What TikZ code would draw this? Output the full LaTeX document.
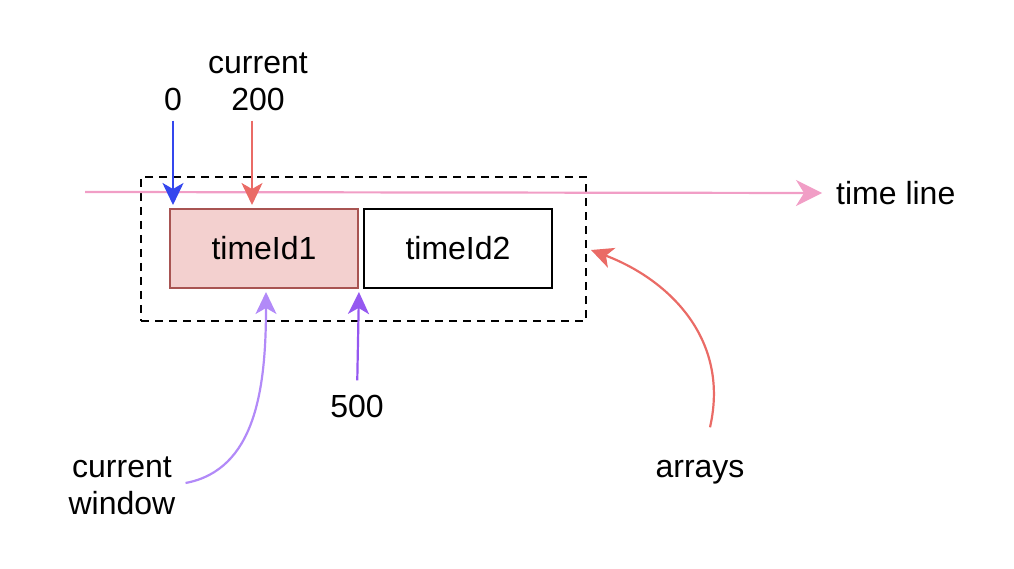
\documentclass[tikz,border=0pt]{standalone}
\usepackage{fontspec}
\setmainfont{Liberation Sans}
\usetikzlibrary{arrows.meta,calc}
\definecolor{tlpink}{HTML}{F19EC6}
\definecolor{zblue}{HTML}{3447EE}
\definecolor{cred}{HTML}{EA6B66}
\definecolor{dpurp}{HTML}{9558F0}
\definecolor{lpurp}{HTML}{B28AF8}
\definecolor{boxfill}{HTML}{F3D0CF}
\definecolor{boxline}{HTML}{A85452}
\tikzset{
  lbl/.style={font=\fontsize{32}{37}\selectfont, inner sep=0pt, text height=23pt, text depth=0pt, align=center},
  cellbox/.style={draw, line width=2pt, minimum width=188pt, minimum height=79pt, inner sep=0pt, font=\fontsize{32}{37}\selectfont},
  arr/.style={line width=2.2pt, -{Stealth[length=22pt,width=21pt,inset=6pt]}},
}
\begin{document}
\begin{tikzpicture}[x=1pt,y=-1pt]
\useasboundingbox (0,0) rectangle (1014,569);
% group
\node[draw, dashed, dash pattern=on 8pt off 6pt, line width=2pt, minimum width=445pt, minimum height=144pt, inner sep=0pt] (grp) at (363.5,249) {};
% cells
\node[cellbox, fill=boxfill, draw=boxline] (t1) at (264,248.5) {timeId1};
\node[cellbox, draw=black] (t2) at (458,248.5) {timeId2};
% time line
\coordinate (tls) at (85,192);
\node[lbl, anchor=west] (tl) at (836,193) {time line};
\draw[tlpink, line width=2.2pt, -{Stealth[length=26pt,width=26pt,inset=8pt]}] (tls) -- ([xshift=-14pt]tl.west);
% labels
\node[lbl] (zero) at (173,99) {0};
\node[lbl] (cur) at (258,62) {current};
\node[lbl] (two) at (258,99) {200};
\node[lbl] (five) at (357,406) {500};
\node[lbl] (cw) at (122,503) {current\\window};
\node[lbl] (arrs) at (700,466) {arrays};
% arrows
\draw[arr, zblue, shorten <=10pt, shorten >=3pt] (zero.south) -- (zero.south |- t1.north);
\draw[arr, cred, shorten <=10pt, shorten >=3pt] ($(two.south)+(-6,0)$) -- ($(two.south |- t1.north)+(-6,0)$);
\draw[arr, dpurp, shorten <=14pt, shorten >=3pt] (five.north) -- (t1.south east);
\draw[arr, lpurp] ($(cw.east)+(10,-20)$) .. controls (255,470) and (266,390) .. ($(t1.south)+(2,3)$);
\draw[arr, cred] ($(arrs.north)+(10,-27)$) .. controls (730,340) and (670,280) .. ($(grp.east)+(4,1)$);
\end{tikzpicture}
\end{document}
